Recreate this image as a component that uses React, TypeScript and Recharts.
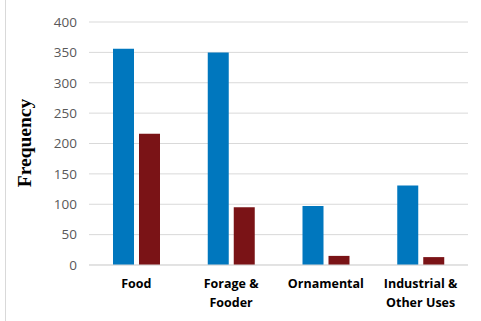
import { BarChart, Bar, CartesianGrid, XAxis, YAxis } from "recharts";

const categories = ["Food", "Forage &\nFooder", "Ornamental", "Industrial &\nOther Uses"];
const seriesA = [356, 350, 97, 131];
const seriesB = [216, 95, 15, 13];
const yTicks = [0, 50, 100, 150, 200, 250, 300, 350, 400];

const data = categories.map((c, i) => ({ name: c, a: seriesA[i], b: seriesB[i] }));

const CategoryTick = (props: any) => {
  const { x, y, payload } = props;
  const lines = String(payload.value).split("\n");
  return (
    <text
      x={x}
      y={y}
      textAnchor="middle"
      fill="#000"
      fontFamily="'Open Sans', sans-serif"
      fontWeight="bold"
      fontSize={12.5}
    >
      {lines.map((l: string, i: number) => (
        <tspan key={i} x={x} dy={i === 0 ? 15 : 18.5}>
          {l}
        </tspan>
      ))}
    </text>
  );
};

export default function App() {
  return (
    <div style={{ position: "absolute", left: 0, top: 0, width: 481, height: 321, background: "#fff" }}>
      <div
        style={{
          position: "absolute",
          left: 5,
          top: 0,
          width: 0,
          height: 321,
          borderLeft: "1px solid #d9d9d9",
        }}
      />
      <BarChart
        width={481}
        height={321}
        data={data}
        margin={{ top: 22, right: 13, bottom: 0, left: 0 }}
        barSize={21}
        barGap={5}
      >
        <CartesianGrid vertical={false} stroke="#d9d9d9" strokeWidth={1} />
        <XAxis
          dataKey="name"
          axisLine={{ stroke: "#d9d9d9" }}
          tickLine={false}
          tick={<CategoryTick />}
          interval={0}
          height={56}
        />
        <YAxis
          width={89}
          domain={[0, 400]}
          ticks={yTicks}
          axisLine={false}
          tickLine={false}
          tickSize={0}
          tickMargin={12}
          tick={{ fill: "#595959", fontSize: 13.5, fontFamily: "'Open Sans', sans-serif" }}
          label={{
            content: () => (
              <text
                x={31}
                y={143}
                transform="rotate(-90 31 143)"
                textAnchor="middle"
                fontFamily="'Liberation Serif', 'Times New Roman', serif"
                fontWeight="bold"
                fontSize={19.5}
                fill="#000"
              >
                Frequency
              </text>
            ),
          }}
        />
        <Bar dataKey="a" fill="#0077BE" isAnimationActive={false} />
        <Bar dataKey="b" fill="#7A1316" isAnimationActive={false} />
      </BarChart>
    </div>
  );
}
